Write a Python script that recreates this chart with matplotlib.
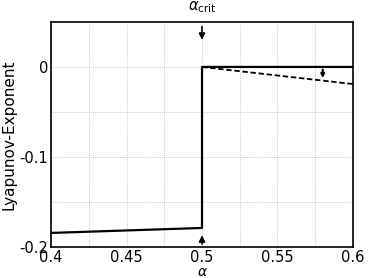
import matplotlib
matplotlib.use("Agg")
import matplotlib.pyplot as plt

# data
alpha_low = [0.4, 0.5]
lyap_low = [-0.1845, -0.179]
alpha_high = [0.5, 0.6]
lyap_high = [0.0, 0.0]
dash_alpha = [0.5, 0.6]
dash_lyap = [0.0, -0.019]
alpha_crit = 0.5
gap_alpha = 0.58
gap_lyap = -0.0155

x_ticks = [0.4, 0.425, 0.45, 0.475, 0.5, 0.525, 0.55, 0.575, 0.6]
x_labels = ["0.4", "", "0.45", "", "0.5", "", "0.55", "", "0.6"]
y_ticks = [-0.2, -0.15, -0.1, -0.05, 0.0]
y_labels = ["-0.2", "", "-0.1", "", "0"]

fig = plt.figure(figsize=(3.9, 2.78), dpi=100)
ax = fig.add_axes([0.131, 0.112, 0.774, 0.809])

ax.plot(alpha_low + alpha_high, lyap_low + lyap_high, "k-", lw=1.6)
ax.plot(dash_alpha, dash_lyap, "k--", lw=1.3, dashes=(3, 1.5))

ax.annotate("", xy=(alpha_crit, 0.027), xytext=(alpha_crit, 0.048),
            arrowprops=dict(arrowstyle="-|>", color="k", lw=1.2, mutation_scale=9))
ax.annotate("", xy=(alpha_crit, -0.184), xytext=(alpha_crit, -0.2),
            arrowprops=dict(arrowstyle="-|>", color="k", lw=1.2, mutation_scale=9))
ax.annotate("", xy=(gap_alpha, gap_lyap), xytext=(gap_alpha, 0.0),
            arrowprops=dict(arrowstyle="-|>", color="k", lw=1.6, mutation_scale=5))

ax.set_xlim(0.4, 0.6)
ax.set_ylim(-0.2, 0.05)
ax.set_xticks(x_ticks)
ax.set_xticklabels(x_labels)
ax.set_yticks(y_ticks)
ax.set_yticklabels(y_labels)
ax.tick_params(length=0, labelsize=10.5, pad=2)
ax.grid(True, color="#bbbbbb", ls=(0, (1, 1.5)), lw=0.6)
for s in ax.spines.values():
    s.set_linewidth(1.2)

ax.set_xlabel(r"$\alpha$", fontsize=10, labelpad=0)
ax.set_ylabel("Lyapunov-Exponent", fontsize=11, labelpad=2)
ax.text(alpha_crit, 1.03, r"$\alpha_{\rm crit}$", transform=ax.get_xaxis_transform(),
        ha="center", va="bottom", fontsize=10.5)

fig.savefig("out.png", dpi=100)
